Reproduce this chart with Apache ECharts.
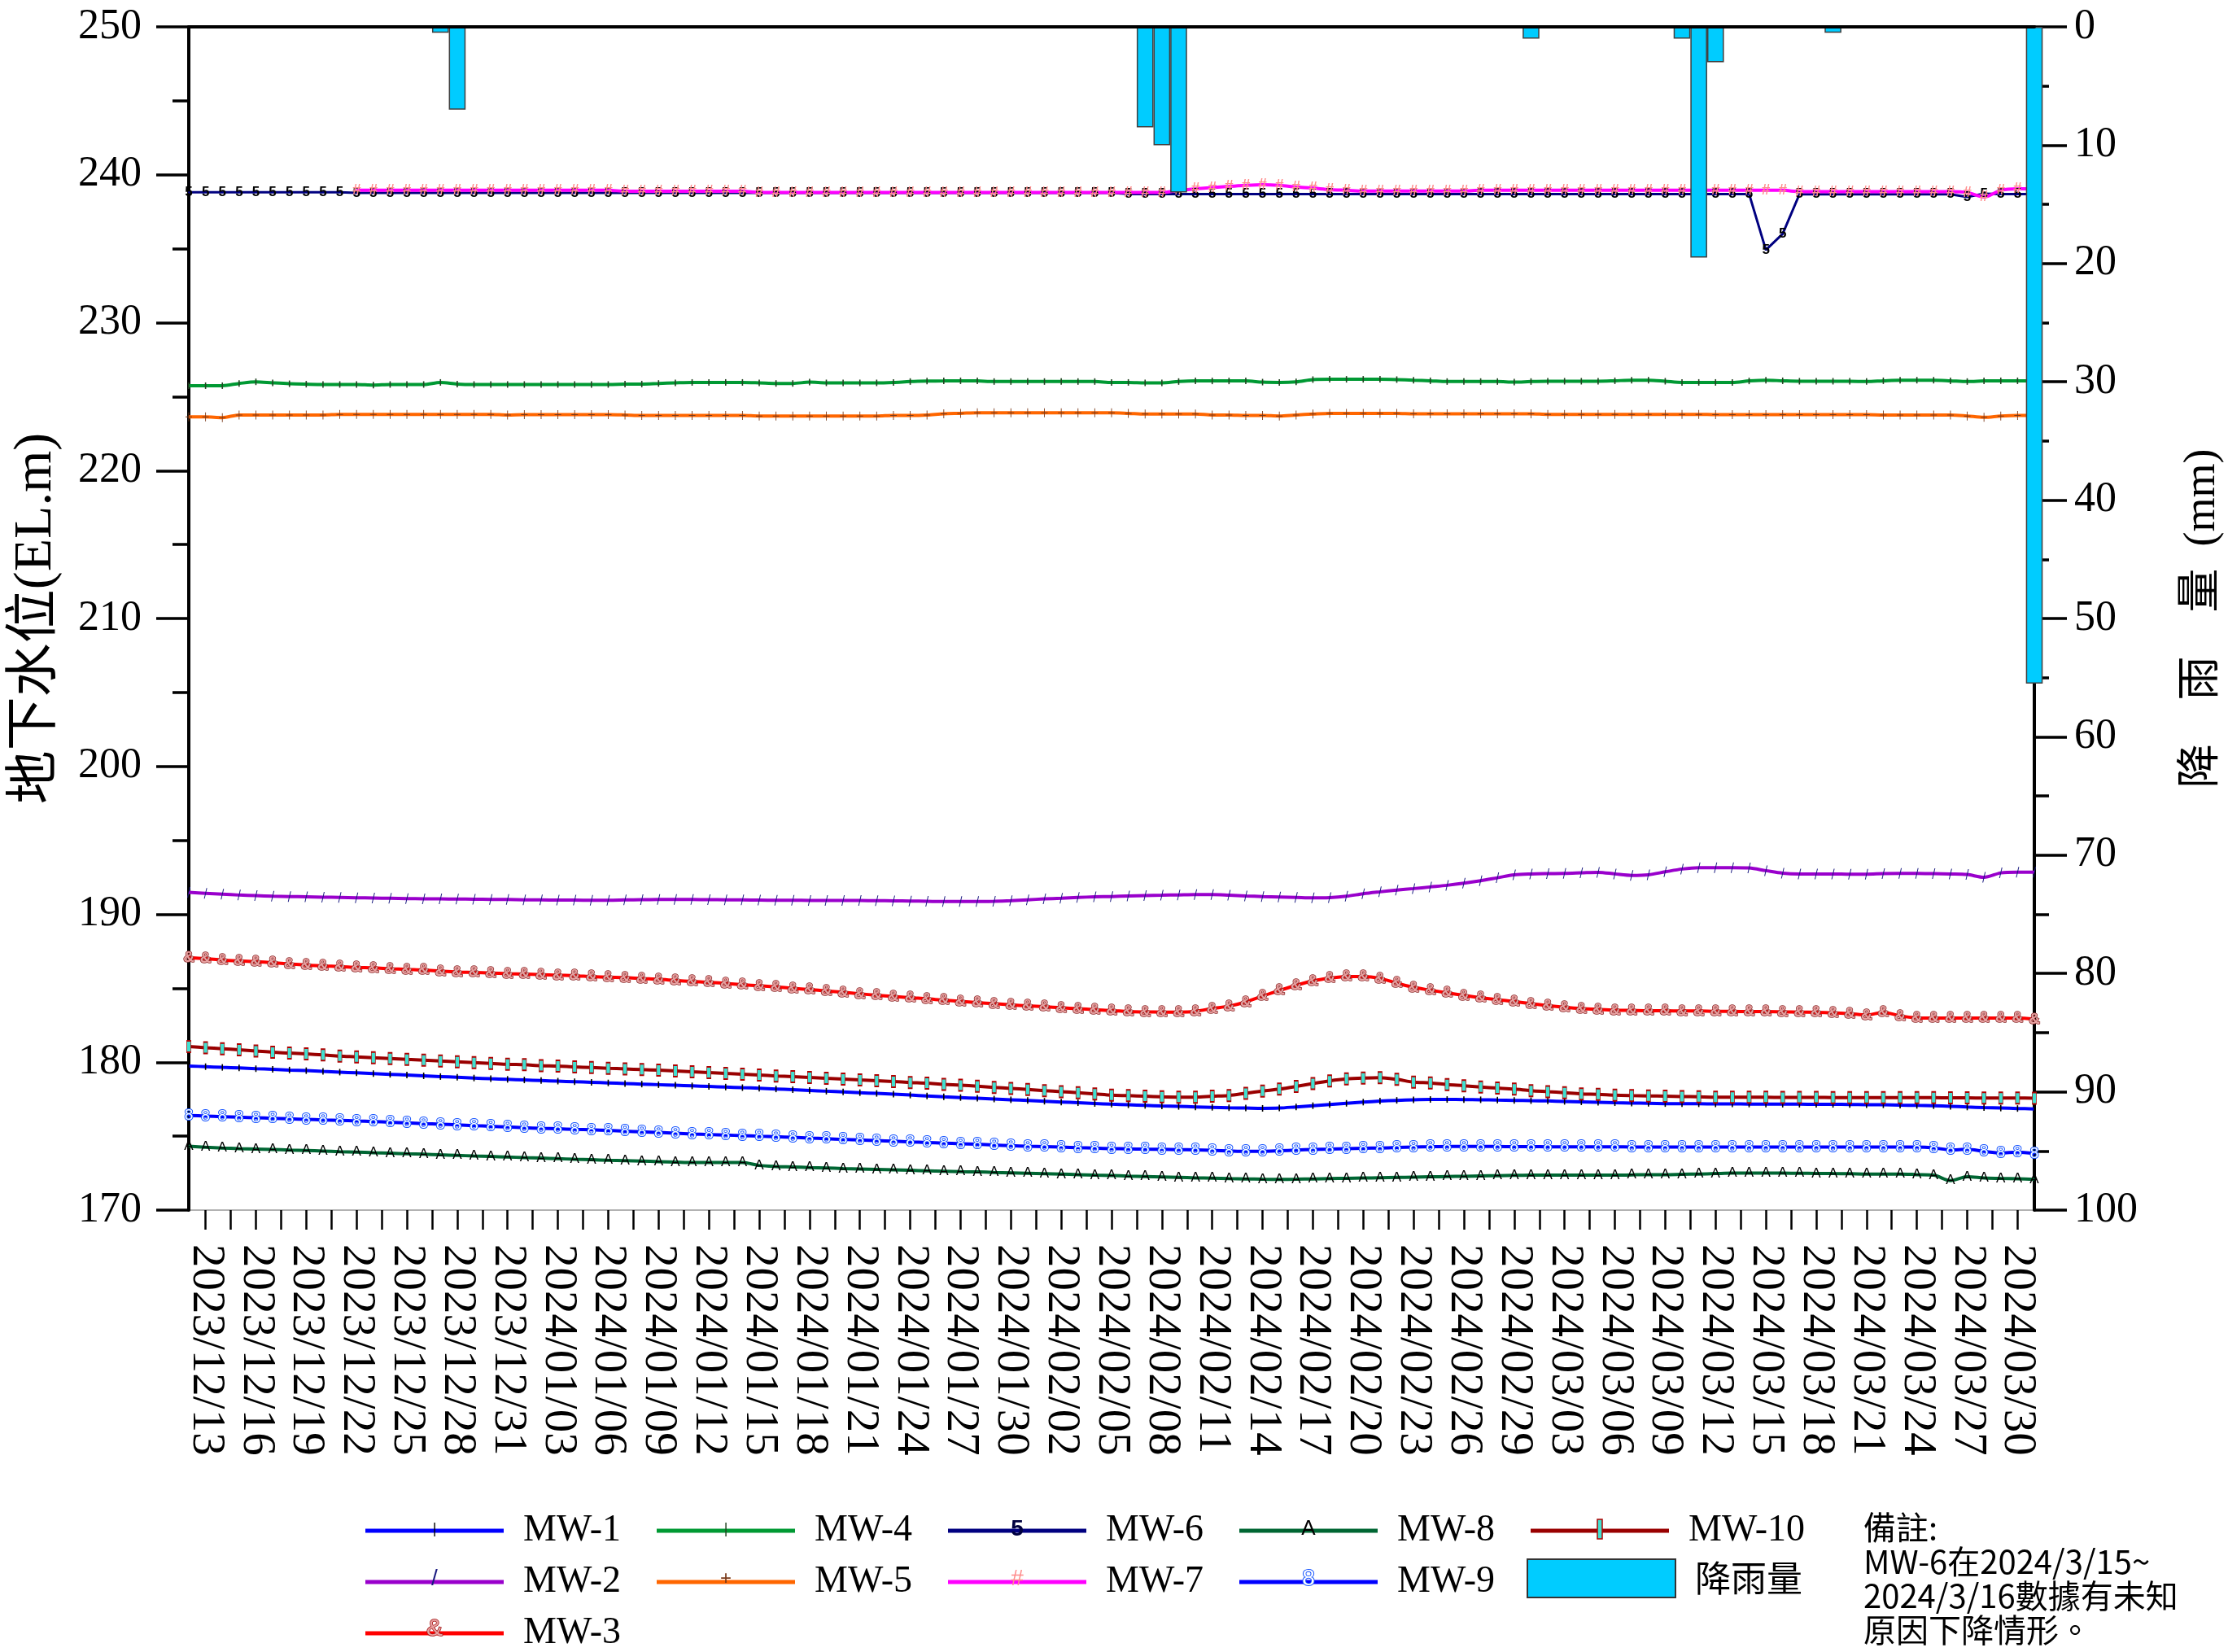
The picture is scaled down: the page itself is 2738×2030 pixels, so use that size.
<!DOCTYPE html>
<html>
<head>
<meta charset="utf-8">
<script src="https://cdn.jsdelivr.net/npm/echarts@6/dist/echarts.min.js"></script>
<style>html,body{margin:0;padding:0;background:#fff}#c{width:2738px;height:2030px}</style>
</head>
<body>
<div id="c"></div>
<script>
// ---- categories ----
const startDate = [2023, 12, 12];
const dayCount = 111;

// ---- series values (EL.m) ----
const mw1 = [179.74,179.70,179.65,179.61,179.56,179.52,179.47,179.43,179.38,179.33,
179.28,179.23,179.18,179.13,179.08,179.03,178.98,178.93,178.88,178.84,
178.80,178.76,178.72,178.68,178.64,178.60,178.56,178.52,178.48,178.44,
178.40,178.36,178.32,178.28,178.24,178.19,178.14,178.09,178.04,177.99,
177.94,177.89,177.84,177.78,177.72,177.66,177.61,177.56,177.51,177.46,
177.41,177.36,177.31,177.26,177.21,177.16,177.12,177.08,177.04,177.01,
176.98,176.95,176.92,176.90,176.88,176.90,176.98,177.06,177.14,177.22,
177.30,177.37,177.42,177.46,177.48,177.48,177.47,177.46,177.44,177.42,
177.40,177.38,177.35,177.32,177.29,177.26,177.24,177.22,177.20,177.19,
177.19,177.18,177.18,177.17,177.17,177.16,177.16,177.15,177.15,177.14,
177.13,177.12,177.10,177.08,177.06,177.02,176.97,176.93,176.90,176.87,
176.84];
const mw2 = [191.48,191.42,191.36,191.30,191.26,191.22,191.20,191.18,191.16,191.14,
191.12,191.10,191.08,191.06,191.05,191.04,191.03,191.02,191.01,191.00,
190.98,190.97,190.96,190.96,190.95,190.95,190.97,190.99,191.00,191.00,
191.00,190.99,190.98,190.97,190.96,190.95,190.95,190.94,190.94,190.93,
190.93,190.92,190.91,190.90,190.88,190.86,190.86,190.86,190.88,190.92,
190.98,191.04,191.08,191.14,191.18,191.20,191.24,191.27,191.29,191.31,
191.33,191.33,191.29,191.24,191.20,191.17,191.14,191.11,191.13,191.22,
191.39,191.52,191.64,191.74,191.85,191.96,192.10,192.27,192.47,192.67,
192.73,192.75,192.76,192.80,192.84,192.73,192.63,192.67,192.87,193.06,
193.15,193.15,193.15,193.13,192.95,192.78,192.73,192.73,192.73,192.71,
192.71,192.75,192.76,192.76,192.75,192.73,192.69,192.50,192.80,192.85,
192.85];
const mw3 = [187.07,187.00,186.91,186.85,186.80,186.73,186.65,186.56,186.51,186.47,
186.41,186.38,186.32,186.27,186.23,186.16,186.10,186.07,186.03,185.99,
185.96,185.92,185.88,185.85,185.79,185.75,185.72,185.66,185.61,185.53,
185.46,185.41,185.33,185.24,185.17,185.09,185.00,184.91,184.82,184.73,
184.62,184.53,184.45,184.36,184.29,184.19,184.12,184.03,183.96,183.88,
183.81,183.75,183.68,183.62,183.55,183.50,183.42,183.40,183.39,183.39,
183.44,183.63,183.79,184.07,184.47,184.85,185.20,185.50,185.68,185.79,
185.79,185.66,185.35,185.06,184.87,184.69,184.51,184.36,184.23,184.10,
183.96,183.83,183.72,183.63,183.57,183.52,183.50,183.48,183.48,183.46,
183.46,183.44,183.44,183.42,183.42,183.40,183.39,183.37,183.33,183.28,
183.19,183.37,183.13,183.00,182.98,182.98,182.98,182.98,182.98,182.98,
182.91];
const mw4 = [225.74,225.74,225.74,225.89,226.00,225.93,225.87,225.84,225.82,225.82,
225.82,225.78,225.82,225.82,225.82,225.96,225.85,225.82,225.82,225.82,
225.82,225.82,225.82,225.82,225.82,225.82,225.84,225.85,225.89,225.93,
225.96,225.96,225.96,225.96,225.93,225.89,225.89,225.98,225.93,225.93,
225.93,225.93,225.96,226.02,226.05,226.06,226.07,226.06,226.02,226.02,
226.02,226.02,226.02,226.02,226.02,225.96,225.96,225.93,225.93,226.02,
226.06,226.06,226.06,226.06,225.98,225.96,226.00,226.15,226.17,226.17,
226.17,226.17,226.15,226.11,226.07,226.02,226.02,226.02,226.02,225.98,
226.02,226.04,226.04,226.04,226.04,226.07,226.11,226.11,226.04,225.96,
225.96,225.96,225.96,226.06,226.11,226.07,226.04,226.04,226.04,226.04,
226.02,226.07,226.11,226.11,226.11,226.07,226.02,226.06,226.07,226.07,
226.07];
const mw5 = [223.63,223.63,223.58,223.76,223.76,223.76,223.76,223.76,223.76,223.80,
223.80,223.80,223.80,223.80,223.80,223.80,223.80,223.80,223.80,223.76,
223.78,223.78,223.78,223.78,223.78,223.78,223.76,223.73,223.73,223.73,
223.73,223.73,223.73,223.73,223.69,223.69,223.69,223.69,223.69,223.69,
223.69,223.69,223.73,223.73,223.76,223.84,223.87,223.91,223.91,223.91,
223.91,223.91,223.91,223.91,223.91,223.91,223.87,223.82,223.82,223.82,
223.82,223.76,223.76,223.73,223.73,223.69,223.76,223.82,223.87,223.87,
223.87,223.87,223.87,223.84,223.84,223.84,223.84,223.84,223.84,223.84,
223.84,223.80,223.80,223.80,223.80,223.80,223.80,223.80,223.80,223.80,
223.80,223.78,223.78,223.78,223.78,223.78,223.78,223.78,223.78,223.78,
223.78,223.76,223.76,223.76,223.76,223.76,223.69,223.60,223.69,223.73,
223.73];
const mw6 = [238.82,238.82,238.82,238.82,238.82,238.82,238.82,238.82,238.82,238.82,
238.78,238.78,238.78,238.78,238.78,238.78,238.78,238.78,238.78,238.78,
238.78,238.78,238.78,238.78,238.78,238.78,238.78,238.78,238.78,238.78,
238.78,238.78,238.78,238.78,238.78,238.78,238.78,238.78,238.78,238.78,
238.78,238.78,238.78,238.78,238.78,238.78,238.78,238.78,238.78,238.78,
238.78,238.78,238.78,238.78,238.78,238.78,238.70,238.70,238.70,238.70,
238.70,238.70,238.70,238.70,238.70,238.70,238.70,238.70,238.70,238.70,
238.70,238.70,238.70,238.70,238.70,238.70,238.70,238.70,238.70,238.70,
238.70,238.70,238.70,238.70,238.70,238.70,238.70,238.70,238.70,238.70,
238.70,238.70,238.70,238.70,234.92,236.00,238.68,238.68,238.68,238.68,
238.68,238.68,238.68,238.68,238.68,238.68,238.50,238.72,238.70,238.70,
238.70];
const mw7 = [null,null,null,null,null,null,null,null,null,null,
238.96,238.96,238.96,238.96,238.96,238.96,238.96,238.96,238.96,238.96,
238.96,238.96,238.96,238.96,238.96,238.96,238.88,238.88,238.88,238.88,
238.88,238.88,238.88,238.88,238.80,238.80,238.80,238.80,238.80,238.80,
238.80,238.80,238.80,238.80,238.80,238.80,238.80,238.80,238.80,238.80,
238.80,238.80,238.80,238.80,238.80,238.80,238.80,238.80,238.80,238.95,
239.05,239.14,239.21,239.28,239.32,239.28,239.18,239.10,239.00,238.95,
238.90,238.90,238.90,238.90,238.90,238.90,238.90,238.95,238.95,238.95,
238.95,238.95,238.95,238.95,238.95,238.95,238.95,238.95,238.95,238.95,
238.95,238.95,238.95,238.95,238.95,238.95,238.86,238.86,238.86,238.86,
238.86,238.86,238.86,238.86,238.86,238.86,238.80,238.50,238.95,239.05,
239.05];
const mw8 = [174.32,174.25,174.20,174.16,174.13,174.10,174.06,174.03,173.99,173.95,
173.92,173.88,173.85,173.81,173.78,173.74,173.70,173.66,173.63,173.59,
173.55,173.52,173.48,173.44,173.41,173.37,173.34,173.31,173.28,173.25,
173.22,173.22,173.22,173.22,173.02,172.95,172.92,172.88,172.85,172.81,
172.78,172.75,172.72,172.69,172.66,172.63,172.60,172.58,172.55,172.52,
172.49,172.46,172.43,172.40,172.37,172.34,172.30,172.27,172.24,172.21,
172.18,172.16,172.13,172.11,172.09,172.08,172.09,172.11,172.13,172.15,
172.17,172.19,172.21,172.23,172.25,172.27,172.29,172.31,172.33,172.35,
172.36,172.36,172.36,172.36,172.36,172.36,172.38,172.40,172.40,172.42,
172.44,172.47,172.50,172.50,172.50,172.50,172.49,172.48,172.47,172.46,
172.44,172.44,172.44,172.40,172.36,172.00,172.26,172.18,172.14,172.12,
172.08];
const mw9 = [176.40,176.36,176.32,176.28,176.25,176.21,176.17,176.14,176.10,176.07,
176.03,175.99,175.94,175.90,175.85,175.81,175.76,175.71,175.67,175.62,
175.57,175.53,175.50,175.46,175.43,175.39,175.34,175.29,175.25,175.20,
175.15,175.11,175.07,175.04,175.00,174.96,174.92,174.87,174.83,174.78,
174.74,174.70,174.66,174.61,174.57,174.53,174.49,174.45,174.40,174.36,
174.32,174.29,174.26,174.22,174.19,174.16,174.14,174.12,174.11,174.09,
174.07,174.04,174.00,173.97,173.98,174.01,174.06,174.10,174.13,174.16,
174.18,174.20,174.23,174.27,174.29,174.31,174.31,174.30,174.30,174.29,
174.29,174.28,174.28,174.28,174.28,174.28,174.27,174.27,174.27,174.27,
174.27,174.27,174.27,174.27,174.27,174.27,174.27,174.27,174.26,174.26,
174.26,174.26,174.26,174.26,174.21,174.07,174.11,173.97,173.86,173.92,
173.83];
const mw10 = [181.06,180.98,180.91,180.84,180.76,180.67,180.62,180.56,180.49,180.41,
180.36,180.30,180.25,180.19,180.14,180.08,180.03,179.97,179.92,179.86,
179.83,179.77,179.74,179.68,179.64,179.59,179.55,179.50,179.46,179.41,
179.35,179.30,179.24,179.19,179.13,179.07,179.02,178.97,178.91,178.86,
178.80,178.75,178.69,178.63,178.58,178.50,178.45,178.38,178.30,178.23,
178.16,178.08,178.01,177.94,177.86,177.77,177.74,177.70,177.66,177.64,
177.64,177.70,177.75,177.90,178.05,178.18,178.36,178.56,178.74,178.87,
178.93,178.96,178.84,178.65,178.60,178.49,178.41,178.32,178.25,178.18,
178.08,178.01,177.94,177.86,177.83,177.77,177.74,177.72,177.70,177.68,
177.66,177.64,177.64,177.63,177.63,177.62,177.62,177.62,177.61,177.61,
177.61,177.60,177.60,177.60,177.60,177.59,177.59,177.58,177.58,177.58,
177.57];
// ---- rainfall (mm) ----
const rain = [0,0,0,0,0,0,0,0,0,0,
0,0,0,0,0,0.5,7.0,0,0,0,
0,0,0,0,0,0,0,0,0,0,
0,0,0,0,0,0,0,0,0,0,
0,0,0,0,0,0,0,0,0,0,
0,0,0,0,0,0,0,8.5,10.0,14.0,
0,0,0,0,0,0,0,0,0,0,
0,0,0,0,0,0,0,0,0,0,
1.0,0,0,0,0,0,0,0,0,1.0,
19.5,3.0,0,0,0,0,0,0,0.5,0,
0,0,0,0,0,0,0,0,0,0,
55.5];

// ---- axis tick values ----
const leftAxis = {min: 170, max: 250, step: 10};
const rightAxis = {min: 0, max: 100, step: 10};

// ---- build categories ----
function pad(n) { return n < 10 ? '0' + n : '' + n; }
const dates = [];
const d0 = Date.UTC(startDate[0], startDate[1] - 1, startDate[2]);
for (let i = 0; i < dayCount; i++) {
  const d = new Date(d0 + i * 86400000);
  dates.push(d.getUTCFullYear() + '/' + pad(d.getUTCMonth() + 1) + '/' + pad(d.getUTCDate()));
}
const halfSlots = [];
for (let i = 0; i < 2 * (dayCount - 1) + 1; i++) {
  halfSlots.push(i % 2 === 0 ? dates[i / 2] : dates[(i - 1) / 2] + ' 12h');
}

const serif = "'Liberation Serif','Times New Roman',serif";
const cjk = "'Liberation Serif','Noto Sans CJK TC',serif";
const narrow = "'Liberation Sans Narrow','Liberation Sans',sans-serif";

function textLabel(ch, color, size, extra) {
  return Object.assign({show: true, position: 'inside', formatter: ch, fontSize: size,
    fontFamily: narrow, color: color}, extra || {});
}

function lineSeries(name, data, color, opts) {
  return Object.assign({
    name: name, type: 'line', data: data, xAxisIndex: 0, yAxisIndex: 0,
    smooth: 0.3, showAllSymbol: true, symbol: 'circle', symbolSize: 2,
    itemStyle: {color: color}, lineStyle: {color: color, width: 4},
    emphasis: {disabled: true}, z: 2
  }, opts);
}

const series = [
  lineSeries('MW-1', mw1, '#0000FF', {symbol: 'rect', symbolSize: [1.6, 8], itemStyle: {color: '#000'}}),
  lineSeries('MW-2', mw2, '#9900CC', {symbol: 'path://M0,14 L1,14 L4,0 L3,0 Z', symbolSize: [4, 13], itemStyle: {color: '#1a1a80'}}),
  lineSeries('MW-3', mw3, '#FF0000', {label: textLabel('&', '#e8a0a0', 19, {textBorderColor: '#8B2A2A', textBorderWidth: 1.5, fontWeight: 'bold'})}),
  lineSeries('MW-4', mw4, '#009933', {symbol: 'rect', symbolSize: [1.6, 8], itemStyle: {color: '#224422'}}),
  lineSeries('MW-5', mw5, '#FF6600', {symbol: 'path://M4,0 L5,0 L5,5 L9,5 L9,6 L5,6 L5,11 L4,11 L4,6 L0,6 L0,5 L4,5 Z', symbolSize: [8, 11], itemStyle: {color: '#7a3a1a'}}),
  lineSeries('MW-6', mw6, '#000080', {smooth: false, lineStyle: {color: '#000080', width: 3},
    label: textLabel('5', '#000', 17, {fontWeight: 'bold'})}),
  lineSeries('MW-7', mw7, '#FF00FF', {label: textLabel('#', '#FF8C8C', 19, {fontWeight: 'bold'})}),
  lineSeries('MW-8', mw8, '#006633', {label: textLabel('A', '#000', 17)}),
  lineSeries('MW-9', mw9, '#0000FF', {label: textLabel('8', '#ffffff', 19, {textBorderColor: '#1050ff', textBorderWidth: 2})}),
  lineSeries('MW-10', mw10, '#990000', {symbol: 'rect', symbolSize: [5, 14], itemStyle: {color: '#40E0D0', borderColor: '#B00000', borderWidth: 1.2}}),
  {
    name: '降雨量', type: 'bar', data: rain.map(v => v === 0 ? null : v),
    xAxisIndex: 0, yAxisIndex: 1, barCategoryGap: '0%', clip: false, z: 3,
    itemStyle: {color: '#00CCFF', borderColor: '#404040', borderWidth: 1.5},
    emphasis: {disabled: true}
  }
];

const legendColor = {'MW-1':'#0000FF','MW-2':'#9900CC','MW-3':'#FF0000','MW-4':'#009933','MW-5':'#FF6600',
  'MW-6':'#000080','MW-7':'#FF00FF','MW-8':'#006633','MW-9':'#0000FF','MW-10':'#990000'};
const legendCols = [['MW-1','MW-2','MW-3'],['MW-4','MW-5'],['MW-6','MW-7'],['MW-8','MW-9'],['MW-10']];
const colLeft = [449, 807, 1165, 1523, 1881];
const rowCenter = [1879, 1940, 2002];

const legends = legendCols.map((names, ci) => ({
  orient: 'vertical', left: colLeft[ci], top: rowCenter[0] - 21, height: 400, padding: 0,
  icon: 'rect', itemWidth: 170, itemHeight: 5, itemGap: 17, selectedMode: false,
  textStyle: {fontSize: 46, fontFamily: serif, color: '#000', padding: [0, 0, 0, 19]},
  data: names.map(n => ({name: n, itemStyle: {color: legendColor[n], borderWidth: 0}}))
}));
legends.push({
  orient: 'vertical', left: 1876, top: 1915, padding: 0, icon: 'rect', itemWidth: 182, itemHeight: 47,
  selectedMode: false,
  textStyle: {fontSize: 44, fontFamily: "'Noto Sans CJK TC'", color: '#000', padding: [0, 0, 0, 19]},
  data: [{name: '降雨量', itemStyle: {color: '#00CCFF', borderColor: '#333', borderWidth: 2}}]
});

// legend marker glyphs
const glyphs = [
  ['MW-1', 0, 0, '|', '#000', 18, {}],
  ['MW-2', 0, 1, '/', '#1a1a80', 28, {}],
  ['MW-3', 0, 2, '&', '#e8a0a0', 30, {stroke: '#A01010', lineWidth: 1.5}],
  ['MW-4', 1, 0, '|', '#224422', 18, {}],
  ['MW-5', 1, 1, '+', '#7a3a1a', 24, {}],
  ['MW-6', 2, 0, '5', '#000040', 28, {fontWeight: 'bold'}],
  ['MW-7', 2, 1, '#', '#FF8C8C', 28, {}],
  ['MW-8', 3, 0, 'A', '#000', 26, {}],
  ['MW-9', 3, 1, '8', '#ffffff', 28, {stroke: '#1050ff', lineWidth: 2}]
];
const graphics = glyphs.map(g => ({
  type: 'text', x: colLeft[g[1]] + 85, y: rowCenter[g[2]], z: 100,
  style: Object.assign({text: g[3], fill: g[4], fontSize: g[5], fontFamily: narrow,
    align: 'center', verticalAlign: 'middle'}, g[6])
}));
graphics.push({type: 'rect', x: colLeft[4] + 82, y: rowCenter[0] - 12, z: 100,
  shape: {width: 6, height: 24}, style: {fill: '#40E0D0', stroke: '#B00000', lineWidth: 1.5}});
graphics.push({type: 'text', left: 2290, top: 1856, z: 100,
  style: {text: '備註:\nMW-6在2024/3/15~\n2024/3/16數據有未知\n原因下降情形。',
    fontSize: 40, fontFamily: "'Noto Sans CJK TC'", lineHeight: 42, fill: '#000'}});

const chart = echarts.init(document.getElementById('c'), null, {renderer: 'canvas'});
chart.setOption({
  animation: false,
  backgroundColor: '#fff',
  grid: {left: 232, right: 238, top: 33, bottom: 543, show: true, borderColor: '#999', borderWidth: 1.5,
    containLabel: false, outerBoundsMode: 'none'},
  legend: legends,
  graphic: graphics,
  xAxis: [
    {type: 'category', data: dates, boundaryGap: false, position: 'bottom',
     axisLine: {show: true, lineStyle: {color: '#000', width: 4}},
     axisTick: {show: false}, axisLabel: {show: false}, splitLine: {show: false}, z: 5},
    {type: 'category', data: halfSlots, boundaryGap: false, position: 'bottom',
     axisLine: {show: false},
     axisTick: {show: true, interval: (i) => i % 3 === 2, length: 24, lineStyle: {color: '#000', width: 2.5}},
     axisLabel: {show: true, interval: (i) => i % 6 === 2, rotate: -90, margin: 42, fontSize: 57,
       fontFamily: serif, color: '#000', formatter: (v) => v},
     splitLine: {show: false}}
  ],
  yAxis: [
    {type: 'value', min: leftAxis.min, max: leftAxis.max, interval: leftAxis.step, position: 'left',
     axisLine: {show: true, lineStyle: {color: '#000', width: 4}},
     axisTick: {show: true, length: 40, lineStyle: {color: '#000', width: 3.5}},
     minorTick: {show: true, splitNumber: 2, length: 20, lineStyle: {color: '#000', width: 3.5}},
     splitLine: {show: false}, minorSplitLine: {show: false},
     axisLabel: {fontSize: 52, fontFamily: serif, color: '#000', margin: 58},
     name: '地下水位(EL.m)', nameLocation: 'middle', nameRotate: 90, nameGap: 154,
     nameTextStyle: {fontSize: 66, fontFamily: cjk, color: '#000'}},
    {type: 'value', min: rightAxis.min, max: rightAxis.max, interval: rightAxis.step, inverse: true, position: 'right',
     axisLine: {show: true, lineStyle: {color: '#000', width: 4}},
     axisTick: {show: true, length: 40, lineStyle: {color: '#000', width: 3.5}},
     minorTick: {show: true, splitNumber: 2, length: 18, lineStyle: {color: '#000', width: 3.5}},
     splitLine: {show: false}, minorSplitLine: {show: false},
     axisLabel: {fontSize: 52, fontFamily: serif, color: '#000', margin: 49},
     name: '降\u2003雨\u2003量\u2002(mm)', nameLocation: 'middle', nameRotate: 90, nameGap: 180,
     nameTextStyle: {fontSize: 54, fontFamily: cjk, color: '#000'}}
  ],
  series: series
});
</script>
</body>
</html>
